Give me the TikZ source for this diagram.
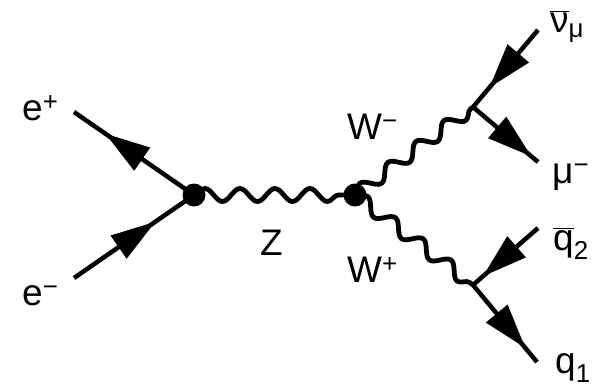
\documentclass[tikz,border=0pt]{standalone}
\usepackage{fontspec}
\setmainfont{Liberation Sans}
\usetikzlibrary{decorations.pathmorphing,decorations.markings,arrows.meta}
\tikzset{
  fermion/.style={line width=4.5pt, postaction={decorate},
    decoration={markings, mark=at position #1 with {\arrow{Triangle[length=45pt,width=27pt]}}}},
  boson/.style={line width=4.8pt, decorate, decoration={snake, segment length=35pt, amplitude=6.5pt}},
  vtx/.style={circle, fill, inner sep=0pt, minimum size=23pt},
  lbl/.style={font=\fontsize{37}{40}\selectfont, inner sep=0pt, anchor=base west}
}
\begin{document}
\begin{tikzpicture}[x=1pt,y=-1pt]
\useasboundingbox (0,0) rectangle (596,388);
% endpoints
\coordinate (ep) at (74,112);
\coordinate (em) at (74,278);
\coordinate (nu) at (538,30);
\coordinate (mu) at (538,162);
\coordinate (q2) at (538,228);
\coordinate (q1) at (537,362);
\coordinate (v3) at (473,107);
\coordinate (v4) at (473,285);
% vertices
\node[vtx] (v1) at (194,195) {};
\node[vtx] (v2) at (355,195) {};
% bosons
\draw[boson] (v1.center) -- (v2.center);
\draw[boson] (v2.center) -- (v3);
\draw[boson] (v2.center) -- (v4);
% fermions
\draw[fermion=0.74] (v1.center) -- (ep);
\draw[fermion=0.68] (em) -- (v1.center);
\draw[fermion=0.75] (nu) -- (v3);
\draw[fermion=0.9] (v3) -- (mu);
\draw[fermion=0.85] (q2) -- (v4);
\draw[fermion=0.82] (v4) -- (q1);
% labels
\node[lbl] (lep) at (22,120) {e\textsuperscript{+}};
\node[lbl] (lem) at (22,305) {e\textsuperscript{−}};
\node[lbl] (lz) at (260,255) {Z};
\node[lbl] (lwm) at (347,139) {W\textsuperscript{−}};
\node[lbl] (lwp) at (347,282) {W\textsuperscript{+}};
\node[lbl] (lnu) at (550,32) {$\overline{\mbox{ν}}$\textsubscript{μ}};
\node[lbl] (lmu) at (552,183) {μ\textsuperscript{−}};
\node[lbl] (lq2) at (553,250) {$\overline{\mbox{q}}$\textsubscript{2}};
\node[lbl] (lq1) at (555,373) {q\textsubscript{1}};
\end{tikzpicture}
\end{document}
